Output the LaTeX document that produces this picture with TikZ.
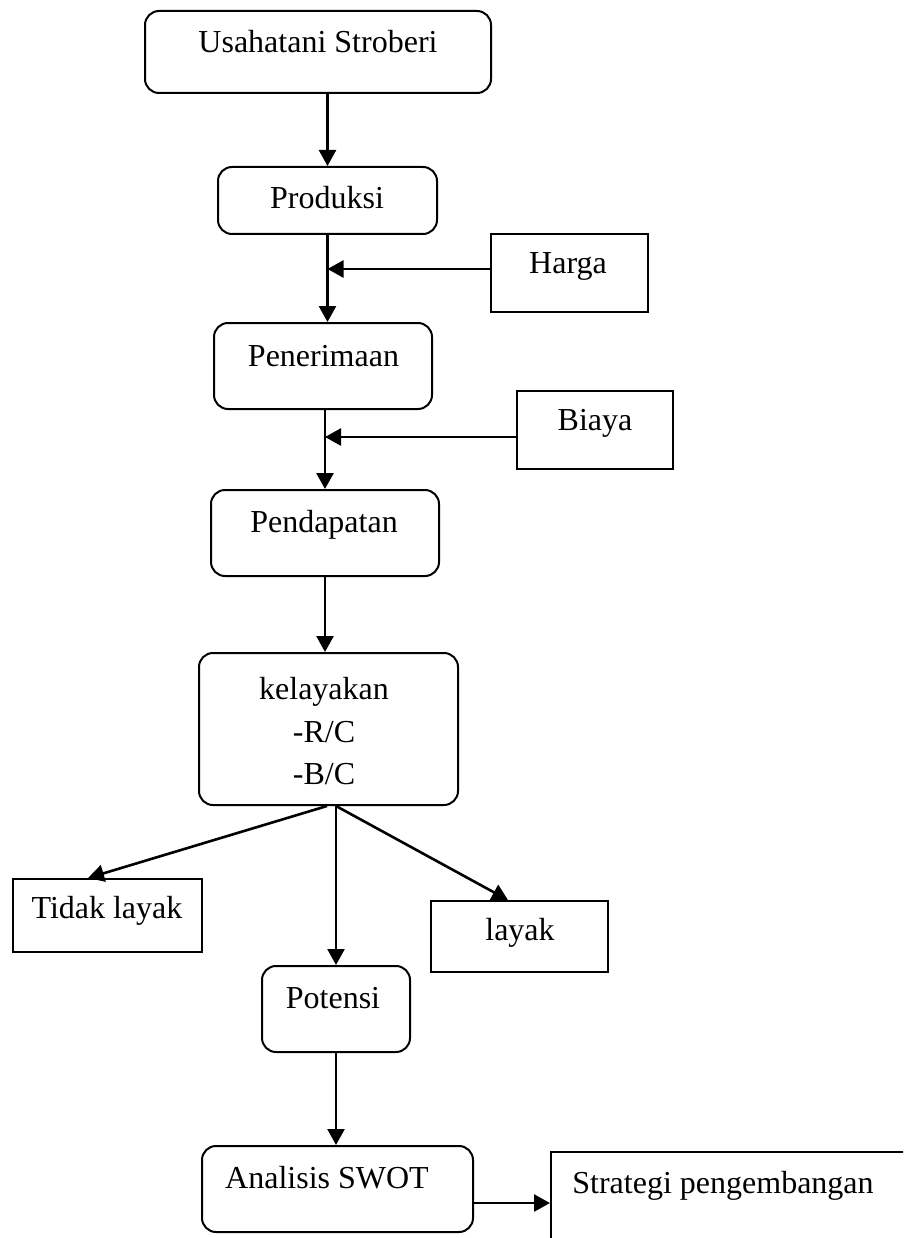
\documentclass[tikz,border=0pt]{standalone}
\usepackage{fontspec}
\setmainfont{Liberation Serif}
\usetikzlibrary{arrows.meta}
\begin{document}
\begin{tikzpicture}[x=1pt,y=-1pt,
  rbox/.style={draw,line width=2pt,rounded corners=14pt,inner sep=0pt},
  sbox/.style={draw,line width=2pt,inner sep=0pt},
  lbl/.style={font=\fontsize{32}{38}\selectfont,anchor=base,inner sep=0pt},
  arr/.style={line width=2.6pt,-{Triangle[length=16pt,width=17pt]}}]
\clip (0,0) rectangle (903,1238);
\fill[white] (0,0) rectangle (903,1238);
% boxes
\node[rbox,minimum width=346,minimum height=82] (usaha) at (318,52) {};
\node[rbox,minimum width=219,minimum height=67] (prod) at (327.5,200.5) {};
\node[sbox,minimum width=157,minimum height=78] (harga) at (569.5,273) {};
\node[rbox,minimum width=218,minimum height=86] (pener) at (323,366) {};
\node[sbox,minimum width=156,minimum height=78] (biaya) at (595,430) {};
\node[rbox,minimum width=228,minimum height=86] (pend) at (325,533) {};
\node[rbox,minimum width=259,minimum height=152] (kel) at (328.5,729) {};
\node[sbox,minimum width=189,minimum height=73] (tidak) at (107.5,915.5) {};
\node[sbox,minimum width=177,minimum height=71] (layak) at (519.5,936.5) {};
\node[rbox,minimum width=148,minimum height=86] (pot) at (336,1009) {};
\node[rbox,minimum width=271,minimum height=86] (swot) at (337.5,1189) {};
\node[sbox,minimum width=400,minimum height=148] (strat) at (751,1226) {};
% texts
\node[lbl] (usahaT) at (318,53) {Usahatani Stroberi};
\node[lbl] (prodT) at (327,209) {Produksi};
\node[lbl] (hargaT) at (568,274) {Harga};
\node[lbl] (penerT) at (323.5,366) {Penerimaan};
\node[lbl] (biayaT) at (595,430) {Biaya};
\node[lbl] (pendT) at (324,532) {Pendapatan};
\node[lbl] (kelT1) at (324,699) {kelayakan};
\node[lbl] (kelT2) at (324,742) {-R/C};
\node[lbl] (kelT3) at (324,784) {-B/C};
\node[lbl] (tidakT) at (107,918) {Tidak layak};
\node[lbl] (layakT) at (520,940) {layak};
\node[lbl] (potT) at (333,1008) {Potensi};
\node[lbl] (swotT) at (327,1188) {Analisis SWOT};
\node[lbl] (stratT) at (723,1193) {Strategi pengembangan};
% connectors
\draw[arr] (usaha.south -| prod.north) -- (prod.north);
\draw[arr] (prod.south) -- (prod.south |- pener.north);
\draw[arr] ([yshift=4pt]harga.west) -- ([yshift=4pt]harga.west -| prod.south);
\draw[arr] (pend.north |- pener.south) -- (pend.north);
\draw[arr] ([yshift=-7pt]biaya.west) -- ([yshift=-7pt]biaya.west -| pend.north);
\draw[arr] (pend.south) -- (pend.south |- kel.north);
\draw[arr] ([xshift=-1.5pt]kel.south) -- ([xshift=-19.5pt]tidak.north);
\draw[arr] (kel.south -| pot.north) -- (pot.north);
\draw[arr] (kel.south -| pot.north) -- ([xshift=-11.5pt]layak.north);
\draw[arr] (pot.south) -- (pot.south |- swot.north);
\draw[arr] ([yshift=-14pt]swot.east) -- ([yshift=-14pt]swot.east -| strat.west);
\end{tikzpicture}
\end{document}
